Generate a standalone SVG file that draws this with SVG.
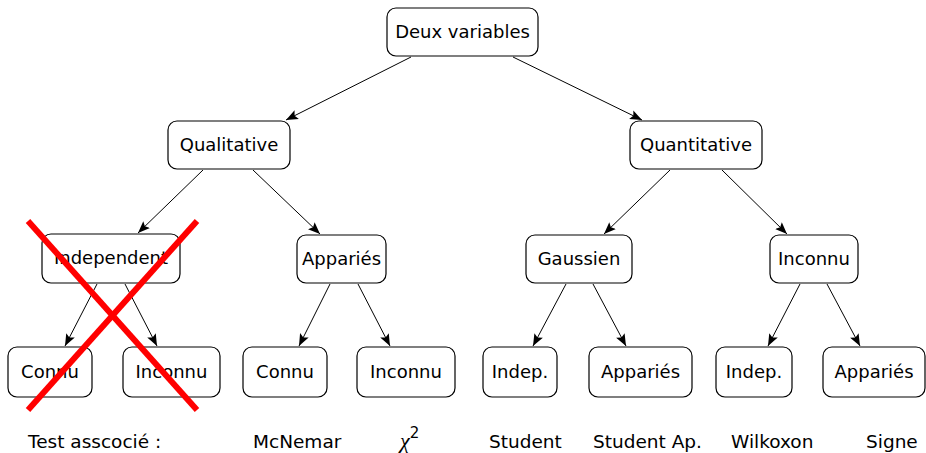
<svg xmlns="http://www.w3.org/2000/svg" width="926" height="453" viewBox="0 0 926 453">
<style>
.box{fill:#fff;stroke:#000;stroke-width:1.2}
.lbl{font-family:"DejaVu Sans","Liberation Sans",sans-serif;font-size:18px;fill:#000;text-anchor:middle}
.bot{font-family:"DejaVu Sans","Liberation Sans",sans-serif;font-size:18.5px;fill:#000}
.edge{stroke:#000;stroke-width:1;fill:none;marker-end:url(#arr)}
.cross{stroke:#ff0000;stroke-width:6;stroke-linecap:butt}
</style>
<defs>
<marker id="arr" viewBox="0 0 10 10" refX="10" refY="5" markerWidth="12" markerHeight="12" markerUnits="userSpaceOnUse" orient="auto">
<path d="M0,1 L10,5 L0,9 L2,5 Z" fill="#000"/>
</marker>
</defs>
<g id="connectors">
<line class="edge" x1="411" y1="57" x2="286" y2="120"/>
<line class="edge" x1="513" y1="57" x2="642" y2="120"/>
<line class="edge" x1="203" y1="170" x2="138" y2="233"/>
<line class="edge" x1="253" y1="170" x2="320" y2="234"/>
<line class="edge" x1="670" y1="170" x2="604" y2="234"/>
<line class="edge" x1="722" y1="170" x2="787" y2="234"/>
<line class="edge" x1="97" y1="284" x2="65" y2="346"/>
<line class="edge" x1="125" y1="284" x2="157" y2="346"/>
<line class="edge" x1="330" y1="284" x2="299" y2="346"/>
<line class="edge" x1="358" y1="284" x2="390" y2="346"/>
<line class="edge" x1="566" y1="284" x2="533" y2="346"/>
<line class="edge" x1="593" y1="284" x2="626" y2="346"/>
<line class="edge" x1="800" y1="284" x2="768" y2="346"/>
<line class="edge" x1="827" y1="284" x2="860" y2="346"/>
</g>
<g id="deux"><rect class="box" x="387" y="8" width="151" height="48" rx="9"/><text class="lbl" x="462.5" y="38">Deux variables</text></g>
<g id="qualitative"><rect class="box" x="168" y="121" width="122" height="48" rx="9"/><text class="lbl" x="229" y="151">Qualitative</text></g>
<g id="quantitative"><rect class="box" x="630" y="121" width="132" height="48" rx="9"/><text class="lbl" x="696" y="151">Quantitative</text></g>
<g id="independent"><rect class="box" x="42" y="234" width="138" height="49" rx="9"/><text class="lbl" x="111" y="264">Independent</text></g>
<g id="appaires"><rect class="box" x="297" y="235" width="89" height="48" rx="9"/><text class="lbl" x="341.5" y="265">Appariés</text></g>
<g id="gaussien"><rect class="box" x="526" y="235" width="106" height="48" rx="9"/><text class="lbl" x="579" y="265">Gaussien</text></g>
<g id="inconnu"><rect class="box" x="770" y="235" width="88" height="48" rx="9"/><text class="lbl" x="814" y="265">Inconnu</text></g>
<g id="connu1"><rect class="box" x="8" y="347" width="84" height="50" rx="9"/><text class="lbl" x="50" y="378">Connu</text></g>
<g id="inconnu1"><rect class="box" x="123" y="347" width="97" height="50" rx="9"/><text class="lbl" x="171.5" y="378">Inconnu</text></g>
<g id="connu2"><rect class="box" x="243" y="347" width="84" height="50" rx="9"/><text class="lbl" x="285" y="378">Connu</text></g>
<g id="inconnu2"><rect class="box" x="357" y="347" width="98" height="50" rx="9"/><text class="lbl" x="406" y="378">Inconnu</text></g>
<g id="indep1"><rect class="box" x="483" y="347" width="74" height="50" rx="9"/><text class="lbl" x="520" y="378">Indep.</text></g>
<g id="appaires1"><rect class="box" x="589" y="347" width="103" height="50" rx="9"/><text class="lbl" x="640.5" y="378">Appariés</text></g>
<g id="indep2"><rect class="box" x="716" y="347" width="76" height="50" rx="9"/><text class="lbl" x="754" y="378">Indep.</text></g>
<g id="appaires2"><rect class="box" x="823" y="347" width="102" height="50" rx="9"/><text class="lbl" x="874" y="378">Appariés</text></g>
<g id="cross">
<line class="cross" x1="28" y1="221" x2="197" y2="410"/>
<line class="cross" x1="197" y1="221" x2="28" y2="410"/>
</g>
<g id="tests">
<text class="bot" x="28" y="448">Test asscocié :</text>
<text class="bot" x="253" y="448">McNemar</text>
<text x="400" y="448" font-family="'Liberation Serif',serif" font-style="italic" font-size="22" fill="#000">χ<tspan font-style="normal" font-family="'DejaVu Sans',sans-serif" font-size="15" dy="-10">2</tspan></text>
<text class="bot" x="489" y="448">Student</text>
<text class="bot" x="593" y="448">Student Ap.</text>
<text class="bot" x="731" y="448">Wilkoxon</text>
<text class="bot" x="866" y="448">Signe</text>
</g>
</svg>
